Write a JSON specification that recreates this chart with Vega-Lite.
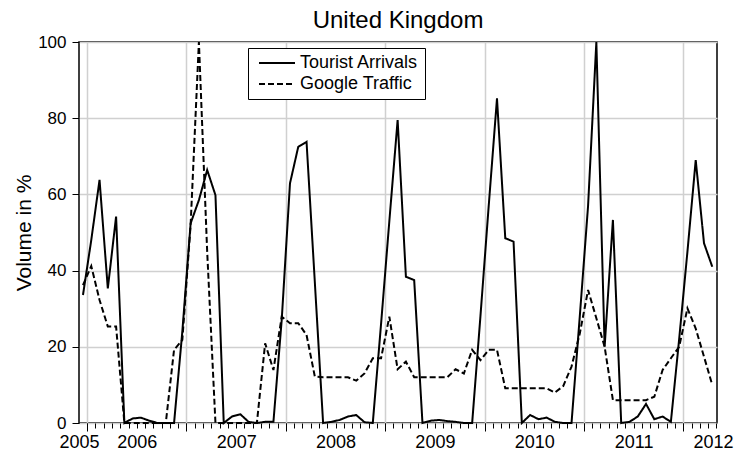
{
  "$schema": "https://vega.github.io/schema/vega-lite/v6.json",
  "width": 638,
  "height": 381,
  "autosize": {"type": "none"},
  "padding": {"left": 79, "top": 42, "right": 18, "bottom": 32},
  "background": "white",
  "config": {"font": "Liberation Sans", "view": {"stroke": "black", "strokeWidth": 1.5}},
  "title": {"text": "United Kingdom", "fontSize": 24, "fontWeight": "normal", "color": "black", "anchor": "middle", "frame": "group", "offset": 0},
  "datasets": {
    "uk": [
      {"m":0,"s":"Tourist Arrivals","v":33.6},{"m":1,"s":"Tourist Arrivals","v":48},{"m":2,"s":"Tourist Arrivals","v":63.8},{"m":3,"s":"Tourist Arrivals","v":35.3},{"m":4,"s":"Tourist Arrivals","v":54.2},{"m":5,"s":"Tourist Arrivals","v":0},{"m":6,"s":"Tourist Arrivals","v":1.2},{"m":7,"s":"Tourist Arrivals","v":1.4},{"m":8,"s":"Tourist Arrivals","v":0.6},{"m":9,"s":"Tourist Arrivals","v":0},
      {"m":10,"s":"Tourist Arrivals","v":0},{"m":11,"s":"Tourist Arrivals","v":0},{"m":12,"s":"Tourist Arrivals","v":24},{"m":13,"s":"Tourist Arrivals","v":52.4},{"m":14,"s":"Tourist Arrivals","v":58.5},{"m":15,"s":"Tourist Arrivals","v":66.4},{"m":16,"s":"Tourist Arrivals","v":59.8},{"m":17,"s":"Tourist Arrivals","v":0},{"m":18,"s":"Tourist Arrivals","v":1.7},{"m":19,"s":"Tourist Arrivals","v":2.3},
      {"m":20,"s":"Tourist Arrivals","v":0.3},{"m":21,"s":"Tourist Arrivals","v":0},{"m":22,"s":"Tourist Arrivals","v":0.3},{"m":23,"s":"Tourist Arrivals","v":0.3},{"m":24,"s":"Tourist Arrivals","v":27},{"m":25,"s":"Tourist Arrivals","v":62.9},{"m":26,"s":"Tourist Arrivals","v":72.5},{"m":27,"s":"Tourist Arrivals","v":73.8},{"m":28,"s":"Tourist Arrivals","v":37},{"m":29,"s":"Tourist Arrivals","v":0},
      {"m":30,"s":"Tourist Arrivals","v":0.3},{"m":31,"s":"Tourist Arrivals","v":0.8},{"m":32,"s":"Tourist Arrivals","v":1.7},{"m":33,"s":"Tourist Arrivals","v":2.1},{"m":34,"s":"Tourist Arrivals","v":0.2},{"m":35,"s":"Tourist Arrivals","v":0},{"m":36,"s":"Tourist Arrivals","v":26},{"m":37,"s":"Tourist Arrivals","v":53},{"m":38,"s":"Tourist Arrivals","v":79.5},{"m":39,"s":"Tourist Arrivals","v":38.4},
      {"m":40,"s":"Tourist Arrivals","v":37.5},{"m":41,"s":"Tourist Arrivals","v":0},{"m":42,"s":"Tourist Arrivals","v":0.6},{"m":43,"s":"Tourist Arrivals","v":0.8},{"m":44,"s":"Tourist Arrivals","v":0.5},{"m":45,"s":"Tourist Arrivals","v":0.3},{"m":46,"s":"Tourist Arrivals","v":0},{"m":47,"s":"Tourist Arrivals","v":0},{"m":48,"s":"Tourist Arrivals","v":28},{"m":49,"s":"Tourist Arrivals","v":57},
      {"m":50,"s":"Tourist Arrivals","v":85.2},{"m":51,"s":"Tourist Arrivals","v":48.5},{"m":52,"s":"Tourist Arrivals","v":47.6},{"m":53,"s":"Tourist Arrivals","v":0},{"m":54,"s":"Tourist Arrivals","v":2.1},{"m":55,"s":"Tourist Arrivals","v":1.0},{"m":56,"s":"Tourist Arrivals","v":1.4},{"m":57,"s":"Tourist Arrivals","v":0.3},{"m":58,"s":"Tourist Arrivals","v":0},{"m":59,"s":"Tourist Arrivals","v":0},
      {"m":60,"s":"Tourist Arrivals","v":28},{"m":61,"s":"Tourist Arrivals","v":57},{"m":62,"s":"Tourist Arrivals","v":100},{"m":63,"s":"Tourist Arrivals","v":20},{"m":64,"s":"Tourist Arrivals","v":53.3},{"m":65,"s":"Tourist Arrivals","v":0},{"m":66,"s":"Tourist Arrivals","v":0.3},{"m":67,"s":"Tourist Arrivals","v":1.7},{"m":68,"s":"Tourist Arrivals","v":5},{"m":69,"s":"Tourist Arrivals","v":1},
      {"m":70,"s":"Tourist Arrivals","v":1.7},{"m":71,"s":"Tourist Arrivals","v":0.3},{"m":72,"s":"Tourist Arrivals","v":22},{"m":73,"s":"Tourist Arrivals","v":45},{"m":74,"s":"Tourist Arrivals","v":69},{"m":75,"s":"Tourist Arrivals","v":47.2},{"m":76,"s":"Tourist Arrivals","v":41},
      {"m":0,"s":"Google Traffic","v":36.2},{"m":1,"s":"Google Traffic","v":41.2},{"m":2,"s":"Google Traffic","v":32.3},{"m":3,"s":"Google Traffic","v":25.3},{"m":4,"s":"Google Traffic","v":25.3},{"m":5,"s":"Google Traffic","v":0},{"m":6,"s":"Google Traffic","v":0},{"m":7,"s":"Google Traffic","v":0},{"m":8,"s":"Google Traffic","v":0},{"m":9,"s":"Google Traffic","v":0},
      {"m":10,"s":"Google Traffic","v":0},{"m":11,"s":"Google Traffic","v":19.2},{"m":12,"s":"Google Traffic","v":21.8},{"m":13,"s":"Google Traffic","v":52},{"m":14,"s":"Google Traffic","v":100},{"m":15,"s":"Google Traffic","v":45},{"m":16,"s":"Google Traffic","v":0},{"m":17,"s":"Google Traffic","v":0},{"m":18,"s":"Google Traffic","v":0},{"m":19,"s":"Google Traffic","v":0},
      {"m":20,"s":"Google Traffic","v":0},{"m":21,"s":"Google Traffic","v":0},{"m":22,"s":"Google Traffic","v":20.9},{"m":23,"s":"Google Traffic","v":13.9},{"m":24,"s":"Google Traffic","v":27.9},{"m":25,"s":"Google Traffic","v":26.2},{"m":26,"s":"Google Traffic","v":26.2},{"m":27,"s":"Google Traffic","v":23.1},{"m":28,"s":"Google Traffic","v":12.2},{"m":29,"s":"Google Traffic","v":12},
      {"m":30,"s":"Google Traffic","v":12},{"m":31,"s":"Google Traffic","v":12},{"m":32,"s":"Google Traffic","v":12},{"m":33,"s":"Google Traffic","v":11.1},{"m":34,"s":"Google Traffic","v":13},{"m":35,"s":"Google Traffic","v":17},{"m":36,"s":"Google Traffic","v":17},{"m":37,"s":"Google Traffic","v":27.9},{"m":38,"s":"Google Traffic","v":14.1},{"m":39,"s":"Google Traffic","v":16.1},
      {"m":40,"s":"Google Traffic","v":12},{"m":41,"s":"Google Traffic","v":12},{"m":42,"s":"Google Traffic","v":12},{"m":43,"s":"Google Traffic","v":12},{"m":44,"s":"Google Traffic","v":12},{"m":45,"s":"Google Traffic","v":14.1},{"m":46,"s":"Google Traffic","v":13},{"m":47,"s":"Google Traffic","v":19.2},{"m":48,"s":"Google Traffic","v":16.5},{"m":49,"s":"Google Traffic","v":19.2},
      {"m":50,"s":"Google Traffic","v":19.2},{"m":51,"s":"Google Traffic","v":9.1},{"m":52,"s":"Google Traffic","v":9.1},{"m":53,"s":"Google Traffic","v":9.1},{"m":54,"s":"Google Traffic","v":9.1},{"m":55,"s":"Google Traffic","v":9.1},{"m":56,"s":"Google Traffic","v":9.1},{"m":57,"s":"Google Traffic","v":8.0},{"m":58,"s":"Google Traffic","v":9.7},{"m":59,"s":"Google Traffic","v":14.8},
      {"m":60,"s":"Google Traffic","v":23.5},{"m":61,"s":"Google Traffic","v":34.9},{"m":62,"s":"Google Traffic","v":27.5},{"m":63,"s":"Google Traffic","v":20},{"m":64,"s":"Google Traffic","v":6},{"m":65,"s":"Google Traffic","v":6},{"m":66,"s":"Google Traffic","v":6},{"m":67,"s":"Google Traffic","v":6},{"m":68,"s":"Google Traffic","v":6},{"m":69,"s":"Google Traffic","v":6.9},
      {"m":70,"s":"Google Traffic","v":13.9},{"m":71,"s":"Google Traffic","v":17},{"m":72,"s":"Google Traffic","v":20},{"m":73,"s":"Google Traffic","v":30.1},{"m":74,"s":"Google Traffic","v":24.8},{"m":75,"s":"Google Traffic","v":17.4},{"m":76,"s":"Google Traffic","v":10}
    ]
  },
  "data": {"name": "uk"},
  "layer": [
    {
      "mark": {"type": "line", "color": "black", "strokeWidth": 2},
      "encoding": {
        "x": {"field": "m", "type": "quantitative",
          "scale": {"domain": [-0.48, 76.57], "nice": false, "zero": false},
          "axis": {"orient": "bottom", "title": null, "labels": false, "grid": false, "domain": false, "tickSize": 5, "tickColor": "black", "tickWidth": 1,
            "values": [-0.5,0.5,1.5,2.5,3.5,4.5,5.5,6.5,7.5,8.5,9.5,10.5,11.5,12.5,13.5,14.5,15.5,16.5,17.5,18.5,19.5,20.5,21.5,22.5,23.5,24.5,25.5,26.5,27.5,28.5,29.5,30.5,31.5,32.5,33.5,34.5,35.5,36.5,37.5,38.5,39.5,40.5,41.5,42.5,43.5,44.5,45.5,46.5,47.5,48.5,49.5,50.5,51.5,52.5,53.5,54.5,55.5,56.5,57.5,58.5,59.5,60.5,61.5,62.5,63.5,64.5,65.5,66.5,67.5,68.5,69.5,70.5,71.5,72.5,73.5,74.5,75.5,76.5]}},
        "y": {"field": "v", "type": "quantitative",
          "scale": {"domain": [0, 100], "nice": false, "zero": false},
          "axis": {"orient": "left", "values": [0, 20, 40, 60, 80, 100], "domain": false, "tickSize": 7, "tickColor": "black", "tickWidth": 1,
            "grid": true, "gridColor": "#d0d0d0", "gridWidth": 1.5,
            "labelFontSize": 17, "labelColor": "black", "labelPadding": 6,
            "title": "Volume in %", "titleFontSize": 21, "titleFontWeight": "normal", "titleColor": "black", "titlePadding": 3}},
        "strokeDash": {"field": "s", "type": "nominal",
          "scale": {"domain": ["Tourist Arrivals", "Google Traffic"], "range": [[1, 0], [6, 3]]},
          "legend": {"title": null, "orient": "none", "legendX": 169, "legendY": 6, "strokeColor": "black", "fillColor": "white", "padding": 6,
            "symbolType": "M-3,0H3", "symbolSize": 144, "symbolStrokeWidth": 2, "symbolStrokeColor": "black", "symbolOffset": 14,
            "labelFontSize": 18, "labelColor": "black", "labelOffset": 14, "rowPadding": 3, "labelLimit": 300}}
      }
    },
    {
      "mark": {"type": "point", "opacity": 0},
      "encoding": {
        "x": {"field": "m", "type": "quantitative",
          "scale": {"domain": [-0.48, 76.57], "nice": false, "zero": false},
          "axis": {"orient": "bottom", "title": null, "labels": false, "domain": false, "tickSize": 8, "tickColor": "black", "tickWidth": 1,
            "grid": true, "gridColor": "#d0d0d0", "gridWidth": 1.5,
            "values": [0.5, 12.5, 24.5, 36.5, 48.5, 60.5, 72.5]}}
      }
    },
    {
      "mark": {"type": "point", "opacity": 0},
      "encoding": {
        "x": {"field": "m", "type": "quantitative",
          "scale": {"domain": [-0.48, 76.57], "nice": false, "zero": false},
          "axis": {"orient": "bottom", "title": null, "domain": false, "ticks": false, "tickSize": 0, "grid": false,
            "labelFontSize": 18, "labelColor": "black", "labelPadding": 10, "labelFlush": false, "labelOverlap": false,
            "values": [-0.47, 6.5, 18.5, 30.5, 42.5, 54.5, 66.5, 76.1],
            "labelExpr": "datum.value < 0 ? '2005' : datum.value > 75 ? '2012' : '' + (2006 + round((datum.value - 6.5) / 12))"}}
      }
    }
  ],
  "resolve": {"axis": {"x": "independent"}}
}
